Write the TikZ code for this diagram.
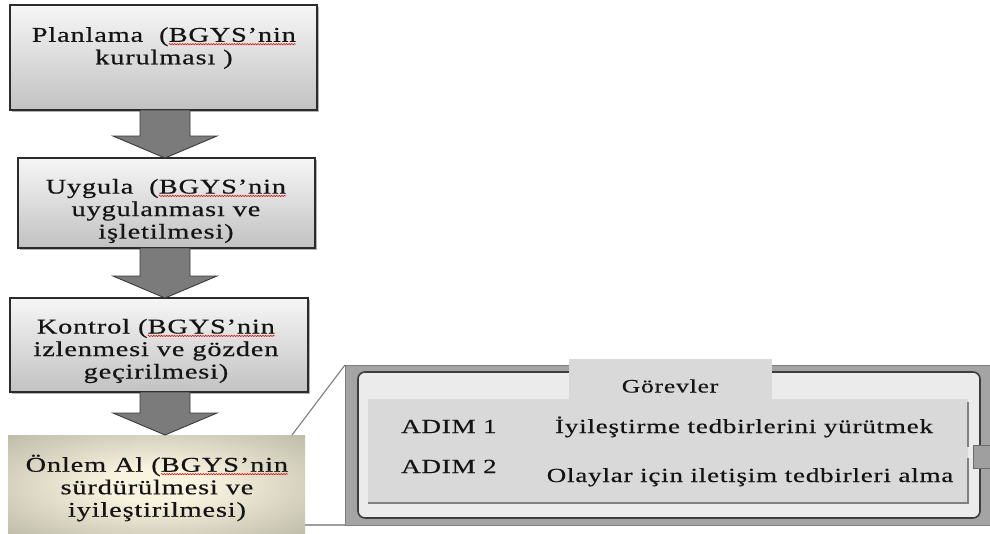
\documentclass[tikz,border=0pt]{standalone}
\usepackage{fontspec}
\setmainfont{Liberation Serif}
\newfontfamily\wfont[FakeStretch=1.35,LetterSpace=4,FakeBold=0.5]{Liberation Serif}
\usetikzlibrary{calc,shadows,decorations.pathmorphing}
\definecolor{boxline}{HTML}{2B2B2B}
\definecolor{boxtop}{HTML}{F6F6F6}
\definecolor{boxbot}{HTML}{C2C2C2}
\definecolor{arrfill}{HTML}{7B7B7B}
\definecolor{arrline}{HTML}{3A3A3A}
\definecolor{oliveA}{HTML}{F8F4E0}
\definecolor{oliveB}{HTML}{ABA896}
\definecolor{oliveC}{HTML}{8E8B7A}
\definecolor{panelgray}{HTML}{A4A4A4}
\definecolor{panelline}{HTML}{7D7D7D}
\definecolor{innerfill}{HTML}{EBEBEB}
\definecolor{innerline}{HTML}{3D3D3D}
\definecolor{areafill}{HTML}{D9D9D9}
\definecolor{txt}{HTML}{141414}
\pgfdeclareradialshading{olivesh}{\pgfpoint{0bp}{0bp}}{color(0bp)=(oliveA); color(8bp)=(oliveA); color(45bp)=(oliveB); color(72bp)=(oliveC)}
\newcommand\redw[1]{\tikz[baseline=(w.base)]{\node[inner sep=0pt,outer sep=0pt](w){#1};\draw[red!85!black,line width=0.5pt,decorate,decoration={snake,amplitude=0.7pt,segment length=2.6pt}]([yshift=-2.4pt]w.base west)--([yshift=-2.4pt]w.base east);}}
\newcommand\blockarr[2]{\draw[barrow] ($(ax|-#1.south)+(-25,0)$) -- ($(ax|-#2.north)+(-25,-22)$) -- ($(ax|-#2.north)+(-52,-22)$) -- (ax|-#2.north) -- ($(ax|-#2.north)+(52,-22)$) -- ($(ax|-#2.north)+(25,-22)$) -- ($(ax|-#1.south)+(25,0)$) -- cycle;}
\begin{document}
\begin{tikzpicture}[x=1pt,y=-1pt,
  box/.style={draw=boxline,line width=1.3pt,top color=boxtop,bottom color=boxbot,
    drop shadow={shadow xshift=2pt,shadow yshift=-2pt,opacity=0.3,fill=black},
    anchor=north west,inner sep=0pt,outer sep=0pt},
  olivebox/.style={shading=olivesh,anchor=north west,inner sep=0pt,outer sep=0pt},
  boxtext/.style={align=center,text=txt,inner sep=0pt,font={\wfont\fontsize{21}{22.5}\selectfont}},
  ptext/.style={text=txt,inner sep=0pt,font={\wfont\fontsize{20}{22}\selectfont}},
  barrow/.style={fill=arrfill,draw=arrline,line width=0.9pt,line join=miter},
  plain/.style={anchor=north west,inner sep=0pt,outer sep=0pt},
  callout/.style={draw=panelline,line width=1.1pt},
  sline/.style={draw=black!50,line width=1.2pt}]
\clip (0,0) rectangle (990,533);
\fill[white] (0,0) rectangle (990,533);
\coordinate (ax) at (165,0);
% right panel
\node[plain,fill=panelgray,draw=panelline,line width=1pt,minimum width=660pt,minimum height=160pt] (panel) at (345,365) {};
\node[plain,fill=innerfill,draw=innerline,line width=1.6pt,rounded corners=7pt,minimum width=622pt,minimum height=146pt] (inner) at (358,372) {};
\node[plain,fill=areafill,minimum width=600pt,minimum height=104pt] (area) at (368,399) {};
\node[plain,fill=areafill,minimum width=203pt,minimum height=41pt] (tab) at (569,359) {};
\draw[sline] ([yshift=-3pt]area.north east) -- ($(area.east)+(0,-4)$);
\draw[sline] ($(area.east)+(0,7)$) -- (area.south east) -- (area.south west);
\node[plain,fill=panelgray!105,draw=black!58,line width=0.9pt,minimum width=22pt,minimum height=23pt] (hd) at (973,445) {};
\node[ptext,font={\wfont\fontsize{19}{22}\selectfont}] (gor) at (670,386) {Görevler};
\node[ptext,anchor=base west] (a1) at (401,433) {ADIM 1};
\node[ptext,anchor=base west] (a2) at (401,473) {ADIM 2};
\node[ptext,anchor=base] (d1) at (744,433) {İyileştirme tedbirlerini yürütmek};
\node[ptext,anchor=base] (d2) at (750,482) {Olaylar için iletişim tedbirleri alma};
% boxes
\node[box,minimum width=307pt,minimum height=105pt] (b1) at (10,5) {};
\node[box,minimum width=297pt,minimum height=90pt] (b2) at (18,158) {};
\node[box,minimum width=298pt,minimum height=94pt] (b3) at (10,298) {};
\node[olivebox,minimum width=297pt,minimum height=100pt] (b4) at (8,435) {};
% callout lines
\draw[callout] ($(b4.north east)+(-13,0)$) -- (panel.north west);
\draw[callout,draw=black!38] (b4.east |- panel.south west) -- (panel.south west);
% arrows
\blockarr{b1}{b2}
\blockarr{b2}{b3}
\blockarr{b3}{b4}
% box texts
\node[boxtext] (t1) at (164,48) {Planlama~~(\redw{BGYS’nin}\\kurulması )};
\node[boxtext] (t2) at (166,211) {Uygula~~(\redw{BGYS’nin}\\uygulanması ve\\işletilmesi)};
\node[boxtext] (t3) at (156,351) {Kontrol (\redw{BGYS’nin}\\izlenmesi ve gözden\\geçirilmesi)};
\node[boxtext] (t4) at (157,488) {Önlem Al (\redw{BGYS’nin}\\sürdürülmesi ve\\iyileştirilmesi)};
\end{tikzpicture}
\end{document}
